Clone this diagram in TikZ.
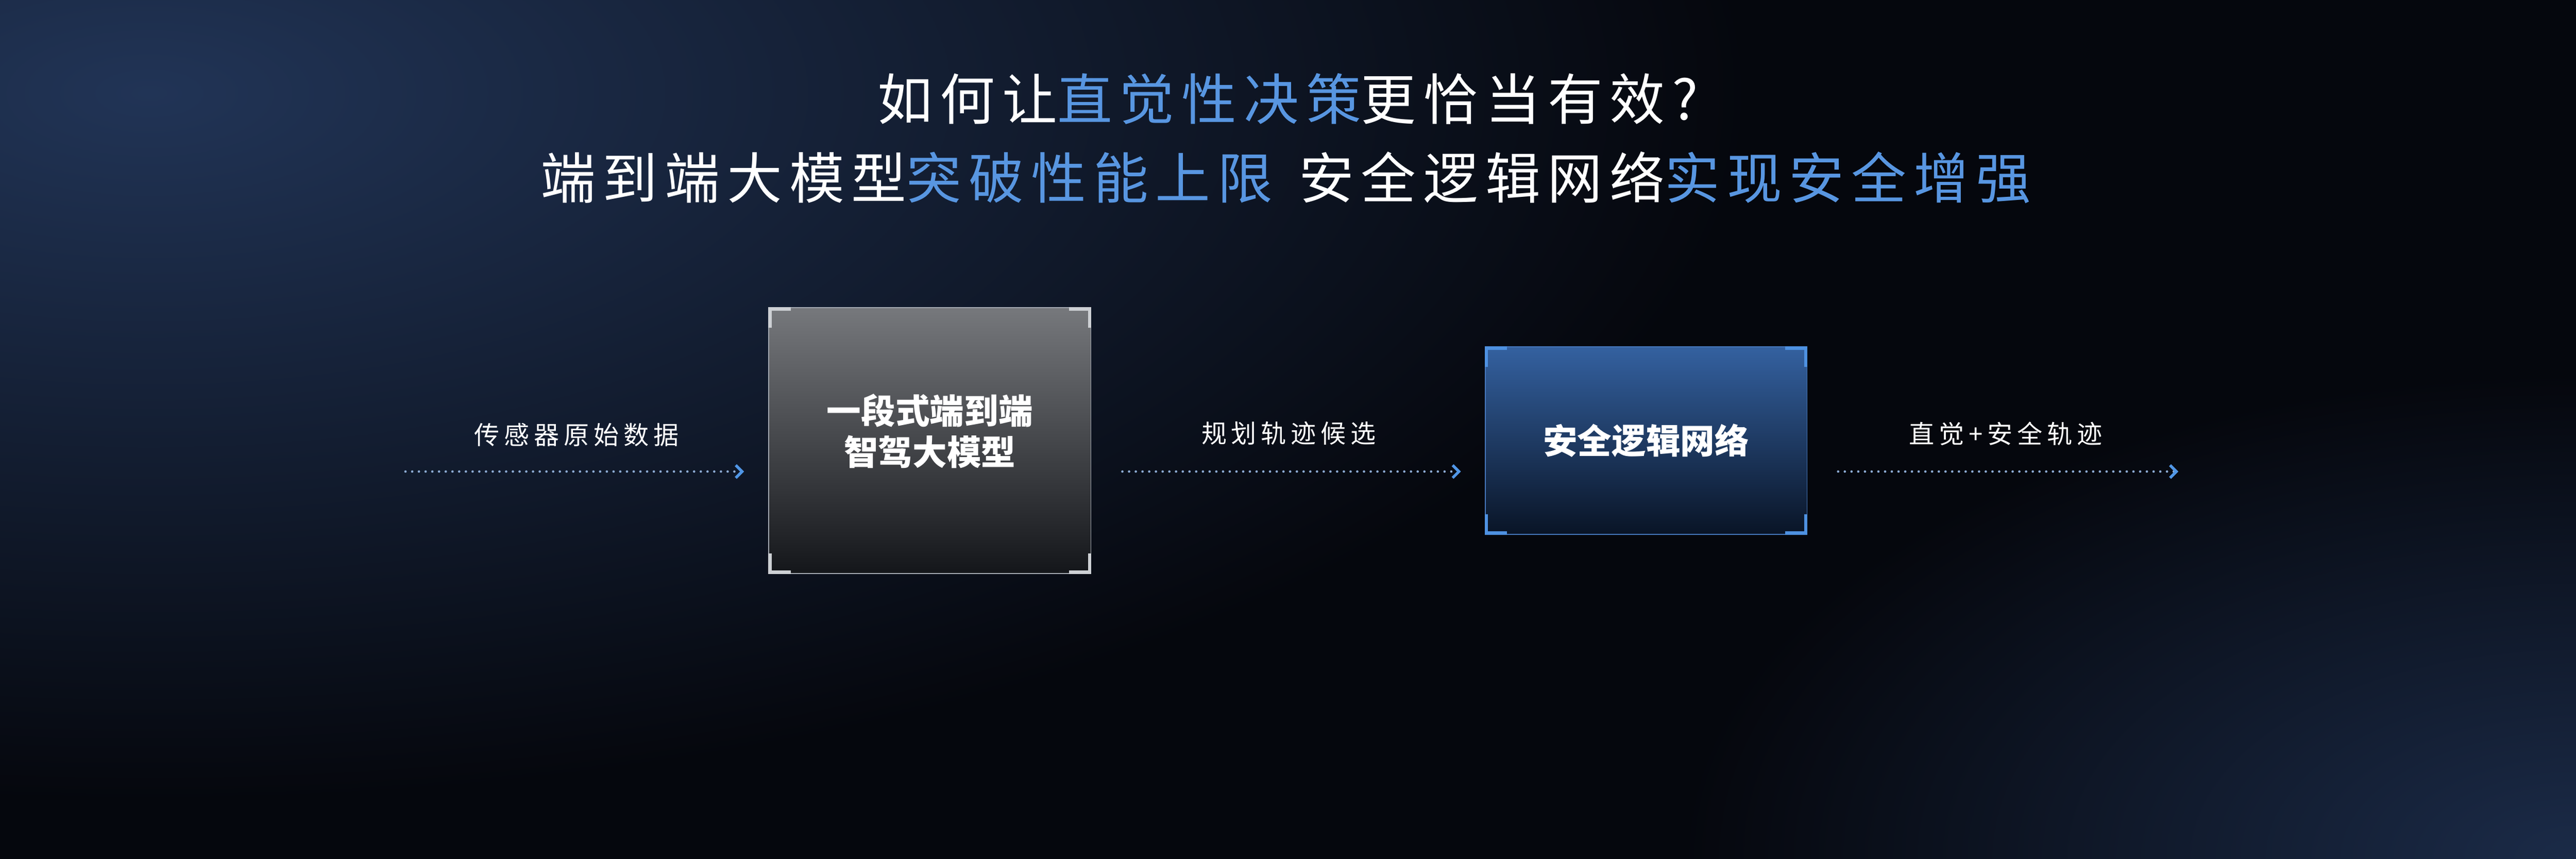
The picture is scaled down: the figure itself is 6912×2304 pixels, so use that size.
\documentclass[tikz,border=0pt]{standalone}
\usepackage{fontspec}
\newfontfamily\cjk{Noto Sans CJK SC}
\newfontfamily\cjklab{Noto Sans CJK SC}[LetterSpace=18]
\newfontfamily\cjktitle{Noto Sans CJK SC}[LetterSpace=13]
\usetikzlibrary{arrows.meta}
\definecolor{bgbase}{RGB}{5,7,13}
\definecolor{glowA}{RGB}{33,52,86}
\definecolor{glowB}{RGB}{27,43,72}
\definecolor{titleblue}{RGB}{88,150,225}
\definecolor{dotc}{RGB}{140,170,210}
\definecolor{tipc}{RGB}{80,150,230}
\definecolor{boxAtop}{RGB}{118,120,124}
\definecolor{boxAbot}{RGB}{20,22,26}
\definecolor{boxAline}{RGB}{165,170,178}
\definecolor{brA}{RGB}{205,208,212}
\definecolor{boxBtop}{RGB}{52,97,160}
\definecolor{boxBbot}{RGB}{9,20,38}
\definecolor{boxBline}{RGB}{70,120,190}
\definecolor{brB}{RGB}{78,145,225}
\newcommand\cornermarks[2]{%
  \draw[#2] ([shift={(4.5,55)}]#1.north west) -- ([shift={(4.5,4.5)}]#1.north west) -- ([shift={(60,4.5)}]#1.north west);
  \draw[#2] ([shift={(-4.5,55)}]#1.north east) -- ([shift={(-4.5,4.5)}]#1.north east) -- ([shift={(-60,4.5)}]#1.north east);
  \draw[#2] ([shift={(4.5,-55)}]#1.south west) -- ([shift={(4.5,-4.5)}]#1.south west) -- ([shift={(60,-4.5)}]#1.south west);
  \draw[#2] ([shift={(-4.5,-55)}]#1.south east) -- ([shift={(-4.5,-4.5)}]#1.south east) -- ([shift={(-60,-4.5)}]#1.south east);
}
\tikzset{
  titlestyle/.style={text=white, inner sep=0pt, font=\cjktitle\fontsize{42pt}{50pt}\selectfont},
  labstyle/.style={text=white, inner sep=0pt, font=\cjklab\fontsize{19.3pt}{23pt}\selectfont},
  boxtext/.style={text=white, inner sep=0pt, align=center, font=\cjk\bfseries\fontsize{26.2pt}{31.5pt}\selectfont},
  boxA/.style={boxtext, draw=boxAline, line width=0.025cm, top color=boxAtop, bottom color=boxAbot, minimum width=8.64cm, minimum height=7.12cm},
  boxB/.style={boxtext, draw=boxBline, line width=0.025cm, top color=boxBtop, bottom color=boxBbot, minimum width=8.63cm, minimum height=5.03cm},
  bracketA/.style={draw=brA, line width=0.09cm, line cap=butt, line join=miter},
  bracketB/.style={draw=brB, line width=0.09cm, line cap=butt, line join=miter},
  dotarrow/.style={draw=dotc, line width=0.065cm, line cap=round, dash pattern=on 0pt off 0.18cm,
    -{Straight Barb[length=0.17cm,width=0.34cm,line width=0.075cm,color=tipc]}}
}
\begin{document}
\begin{tikzpicture}[x=0.01cm,y=-0.01cm]
\useasboundingbox (0,0) rectangle (6912,2304);
\fill[bgbase] (0,0) rectangle (6912,2304);
\begin{scope}
  \clip (0,0) rectangle (6912,2304);
  \shade[inner color=glowA, outer color=bgbase] (400,250) ellipse [x radius=4300, y radius=1900];
  \shade[inner color=glowB, outer color=bgbase] (6912,2304) ellipse [x radius=2400, y radius=1300];
\end{scope}
% title
\node[titlestyle] (t1) at (3456,265) {如何让\textcolor{titleblue}{直觉性决策}更恰当有效?};
\node[titlestyle] (t2) at (3450,477) {端到端大模型\textcolor{titleblue}{突破性能上限}\hspace{0.7cm}安全逻辑网络\textcolor{titleblue}{实现安全增强}};
% boxes
\node[boxA, text depth=0.6cm] (b1) at (2495,1182) {一段式端到端\\智驾大模型};
\node[boxB] (b2) at (4417,1182) {安全逻辑网络};
\cornermarks{b1}{bracketA}
\cornermarks{b2}{bracketB}
% labels
\node[labstyle] (l1) at (1547,1167) {传感器原始数据};
\node[labstyle] (l2) at (3458,1162) {规划轨迹候选};
\node[labstyle] (l3) at (5382,1164) {直觉+安全轨迹};
% connectors
\coordinate (ay) at (0,1265);
\coordinate (s1) at (1088,1265);
\coordinate (e3) at (5845,1265);
\draw[dotarrow, shorten >=0.65cm] (s1) -- (b1.west |- ay);
\draw[dotarrow, shorten <=0.83cm, shorten >=0.64cm] (b1.east |- ay) -- (b2.west |- ay);
\draw[dotarrow, shorten <=0.82cm] (b2.east |- ay) -- (e3);
\end{tikzpicture}
\end{document}
